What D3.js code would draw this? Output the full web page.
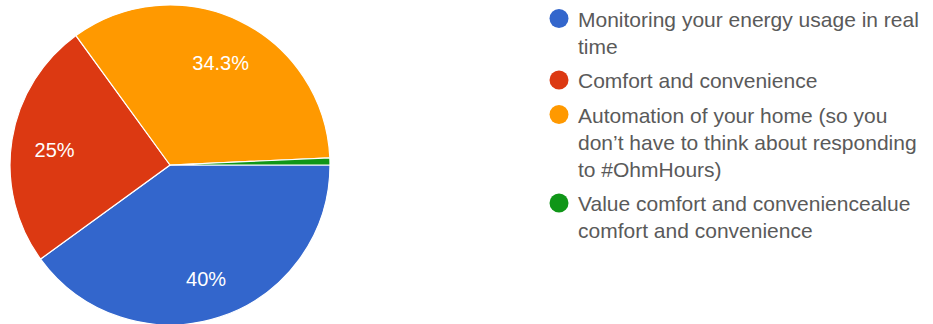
<!DOCTYPE html>
<html lang="en">
  <head>
    <meta charset="utf-8" />
    <title>Pie chart</title>
    <script src="https://cdn.jsdelivr.net/npm/d3@7"></script>
    <style type="text/css">
      body {
        margin: 0;
        background: #fff;
      }
      text {
        font-family: "Liberation Sans", Arial, sans-serif;
      }
      .slice {
        stroke: #fff;
        stroke-width: 1.2;
      }
    </style>
  </head>
  <body>
    <div id="chart"></div>
    <script type="text/javascript">
      /*******************************************
       * data
       *******************************************/

      const categories = [
        "Monitoring your energy usage in real time",
        "Comfort and convenience",
        "Automation of your home (so you don’t have to think about responding to #OhmHours)",
        "Value comfort and conveniencealue comfort and convenience",
      ];

      // responses per answer
      const counts = [56, 35, 48, 1];

      // legend text, wrapped as in the picture
      const legendLines = [
        ["Monitoring your energy usage in real", "time"],
        ["Comfort and convenience"],
        ["Automation of your home (so you", "don’t have to think about responding", "to #OhmHours)"],
        ["Value comfort and conveniencealue", "comfort and convenience"],
      ];

      const colors = ["#3366cc", "#dc3912", "#ff9900", "#109618"];

      /********************************************
       * svg
       ********************************************/

      const width = 933;
      const height = 324;

      const svg = d3
        .select("div#chart")
        .append("svg")
        .attr("width", width)
        .attr("height", height);

      /********************************************
       * pie
       ********************************************/

      const cx = 170;
      const cy = 165;
      const radius = 160;

      const color = d3.scaleOrdinal().domain(categories).range(colors);

      const pie = d3
        .pie()
        .sort(null)
        .value((d) => d.count)
        .startAngle(Math.PI / 2)
        .endAngle(Math.PI / 2 + 2 * Math.PI);

      const rows = categories.map((c, i) => ({ name: c, count: counts[i] }));
      const total = d3.sum(counts);
      const arcs = pie(rows);

      const arc = d3.arc().innerRadius(0).outerRadius(radius);
      const labelArc = d3.arc().innerRadius(radius * 0.73).outerRadius(radius * 0.73);

      const g = svg.append("g").attr("transform", `translate(${cx}, ${cy})`);

      g.selectAll("path.slice")
        .data(arcs)
        .enter()
        .append("path")
        .attr("class", "slice")
        .attr("d", arc)
        .attr("fill", (d) => color(d.data.name));

      // percentage labels, only on slices big enough
      const pct = (d) => {
        const p = (d.data.count / total) * 100;
        return (Math.round(p * 10) / 10).toString() + "%";
      };

      g.selectAll("text.pct")
        .data(arcs.filter((d) => d.data.count / total > 0.05))
        .enter()
        .append("text")
        .attr("class", "pct")
        .attr("transform", (d) => `translate(${labelArc.centroid(d)})`)
        .attr("text-anchor", "middle")
        .attr("dy", "0.5em")
        .attr("fill", "#fff")
        .attr("font-size", 20)
        .text(pct);

      /********************************************
       * legend
       ********************************************/

      const legendX = 559;
      const lineH = 27;
      const itemGap = 7.5;

      let y = 26.5;
      const legend = svg.append("g");

      categories.forEach((c, i) => {
        const item = legend.append("g");
        item
          .append("circle")
          .attr("cx", legendX)
          .attr("cy", y - 8)
          .attr("r", 9.5)
          .attr("fill", color(c));

        legendLines[i].forEach((line, j) => {
          item
            .append("text")
            .attr("x", legendX + 19)
            .attr("y", y + j * lineH)
            .attr("font-size", 21)
            .attr("fill", "#5a5a5a")
            .text(line);
        });
        y += legendLines[i].length * lineH + itemGap;
      });
    </script>
  </body>
</html>
